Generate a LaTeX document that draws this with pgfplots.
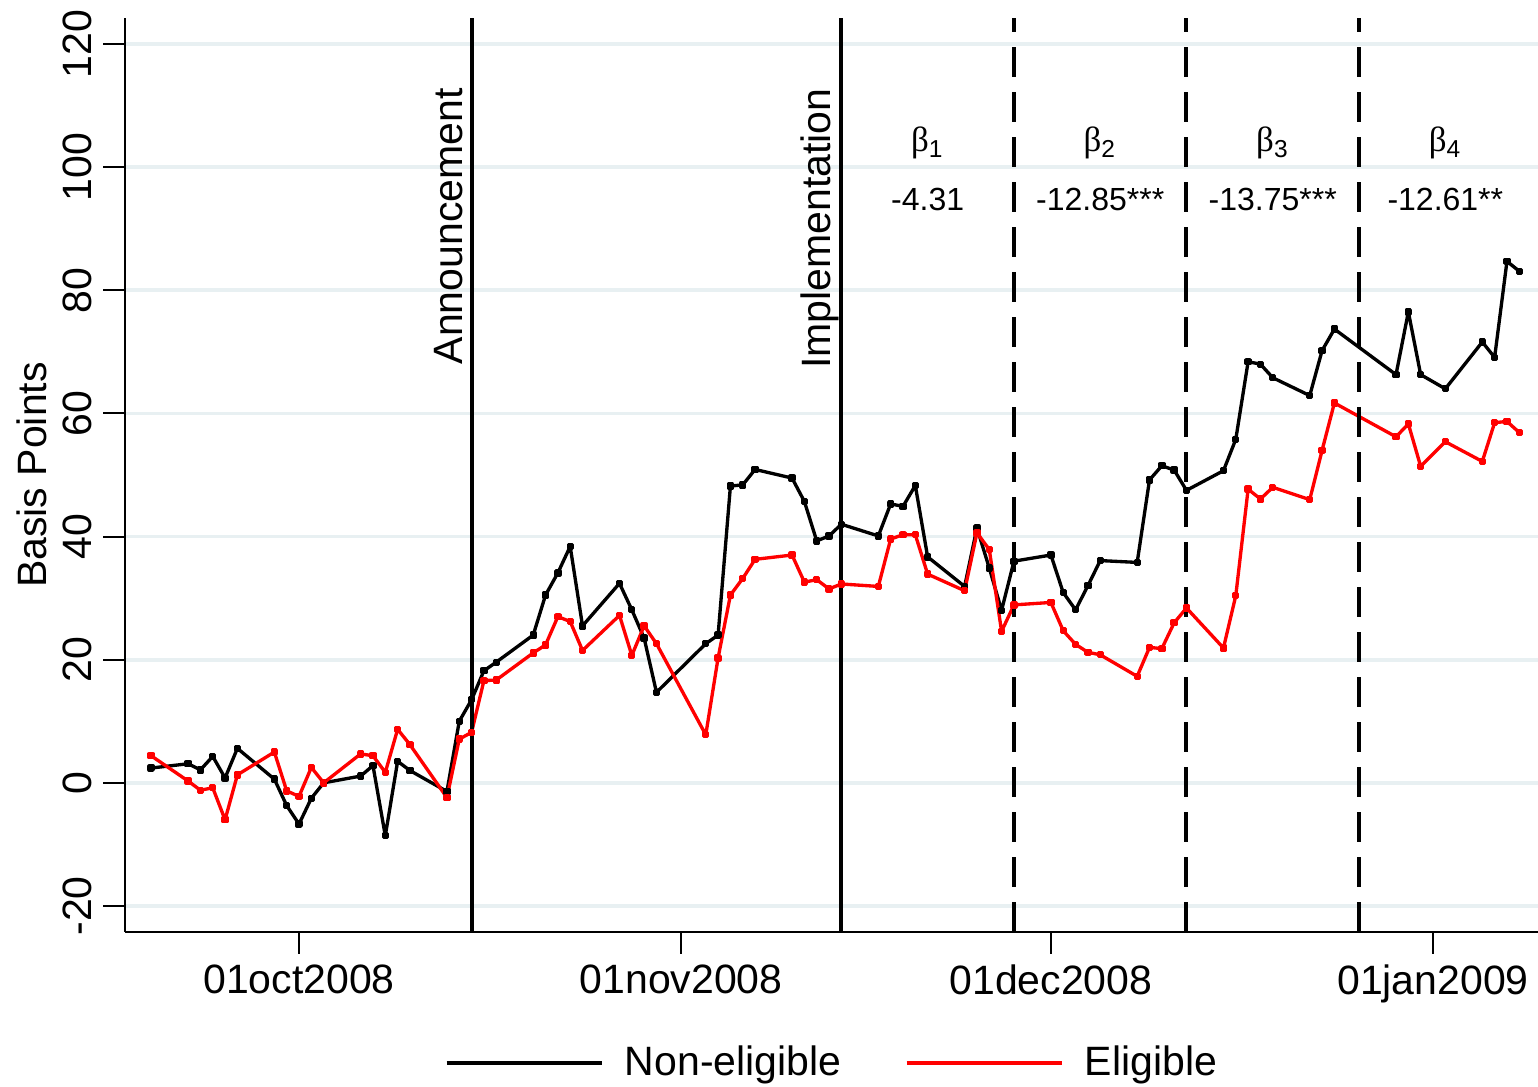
\documentclass[border=0pt]{standalone}
\usepackage{fontspec}
\setmainfont{Liberation Sans}
\newfontfamily\grk{Liberation Serif}
\usepackage{pgfplots}
\usepackage{pgfplotstable}
\pgfplotsset{compat=1.18}
\definecolor{gridc}{RGB}{232,240,242}
\newcommand\bigf{\fontsize{12.3}{14}\selectfont}
\newcommand\smf{\fontsize{9.6}{11}\selectfont}
\newcommand\btf{\fontsize{10.5}{12}\selectfont}
\pgfplotstableread{
d ne el
-12 2.4 4.4
-9 3.1 0.3
-8 2.1 -1.2
-7 4.3 -0.8
-6 0.8 -6.0
-5 5.6 1.3
-2 0.6 5.0
-1 -3.7 -1.3
0 -6.7 -2.2
1 -2.5 2.5
2 0.0 0.0
5 1.1 4.7
6 2.8 4.4
7 -8.6 1.7
8 3.5 8.7
9 2.0 6.2
12 -1.4 -2.4
13 10.0 7.1
14 13.5 8.2
15 18.2 16.6
16 19.6 16.7
19 24.0 21.1
20 30.5 22.4
21 34.1 27.0
22 38.4 26.2
23 25.5 21.5
26 32.4 27.2
27 28.1 20.7
28 23.5 25.5
29 14.7 22.6
33 22.6 7.8
34 24.0 20.3
35 48.2 30.5
36 48.4 33.2
37 50.9 36.3
40 49.5 37.0
41 45.7 32.6
42 39.3 33.0
43 40.1 31.5
44 42.0 32.3
47 40.1 31.9
48 45.3 39.6
49 44.9 40.3
50 48.3 40.3
51 36.7 33.9
54 31.9 31.2
55 41.4 40.6
56 34.9 37.9
57 28.0 24.6
58 36.0 28.9
61 37.0 29.3
62 30.9 24.7
63 28.1 22.5
64 32.0 21.2
65 36.1 20.8
68 35.8 17.3
69 49.2 22.0
70 51.5 21.8
71 50.8 26.0
72 47.5 28.4
75 50.7 21.9
76 55.8 30.4
77 68.4 47.7
78 68.0 46.1
79 65.8 48.0
82 62.9 46.0
83 70.2 54.0
84 73.7 61.7
89 66.3 56.2
90 76.5 58.3
91 66.3 51.4
93 64.0 55.4
96 71.6 52.2
97 69.1 58.5
98 84.7 58.7
99 83.1 56.9
}\data
\begin{document}
\begin{tikzpicture}
\begin{axis}[
  scale only axis, width=423.9pt, height=274.1pt,
  xmin=-14.12, xmax=100.52, ymin=-24.2, ymax=124.2,
  axis x line*=bottom, axis y line*=left,
  axis line style={line width=0.6pt, -},
  xtick={0,31,61,92},
  xticklabels={01oct2008,01nov2008,01dec2008,01jan2009},
  ytick={-20,0,20,40,60,80,100,120},
  tick align=outside, tick style={black, line width=0.6pt},
  major tick length=6.5pt,
  ymajorgrids, grid style={gridc, line width=1.1pt},
  /pgf/number format/assume math mode=true,
  yticklabel style={rotate=90, anchor=south, font=\bigf},
  xticklabel style={font=\bigf},
  ylabel={Basis Points},
  ylabel style={font=\bigf, at={(axis description cs:-0.0658,0.5)}, anchor=center},
  clip=false,
  legend columns=2,
  legend style={at={(axis description cs:0.502,-0.1433)}, anchor=center, draw=none, fill=none, font=\bigf,
    /tikz/every even column/.append style={column sep=17pt}},
  legend image code/.code={\draw[#1, line width=1.1pt] (0pt,0pt) -- (46.5pt,0pt); \path (51pt,0pt);},
]
\addplot[black, line width=1pt, line join=round, mark=square*, mark size=0.6pt] table[x=d, y=ne] {\data};
\addlegendentry{Non-eligible}
\addplot[red, line width=1pt, line join=round, mark=square*, mark size=0.6pt, mark options={fill=red}] table[x=d, y=el] {\data};
\addlegendentry{Eligible}
\draw[line width=1.2pt] (axis cs:14,-24.2) -- (axis cs:14,124.2);
\draw[line width=1.2pt] (axis cs:44,-24.2) -- (axis cs:44,124.2);
\draw[line width=1.2pt, dash pattern=on 9pt off 4.5pt] (axis cs:58,-24.2) -- (axis cs:58,124.2);
\draw[line width=1.2pt, dash pattern=on 9pt off 4.5pt] (axis cs:72,-24.2) -- (axis cs:72,124.2);
\draw[line width=1.2pt, dash pattern=on 9pt off 4.5pt] (axis cs:86,-24.2) -- (axis cs:86,124.2);
\node[rotate=90, anchor=base east, inner sep=0pt, font=\bigf] at (axis cs:13.3,112.9) {Announcement};
\node[rotate=90, anchor=base east, inner sep=0pt, font=\bigf] at (axis cs:43.1,112.9) {Implementation};
\node[font=\btf] at (axis cs:51,103.9) {{\grk β}\textsubscript{1}};
\node[font=\btf] at (axis cs:65,103.9) {{\grk β}\textsubscript{2}};
\node[font=\btf] at (axis cs:79,103.9) {{\grk β}\textsubscript{3}};
\node[font=\btf] at (axis cs:93,103.9) {{\grk β}\textsubscript{4}};
\node[font=\smf] at (axis cs:51,94.7) {-4.31};
\node[font=\smf] at (axis cs:65,94.7) {-12.85***};
\node[font=\smf] at (axis cs:79,94.7) {-13.75***};
\node[font=\smf] at (axis cs:93,94.7) {-12.61**};
\coordinate (TL) at (axis cs:-24.26,127.15);
\coordinate (BR) at (axis cs:100.52,-49.37);
\end{axis}
\pgfresetboundingbox
\path[use as bounding box] (TL) rectangle (BR);
\end{tikzpicture}
\end{document}
